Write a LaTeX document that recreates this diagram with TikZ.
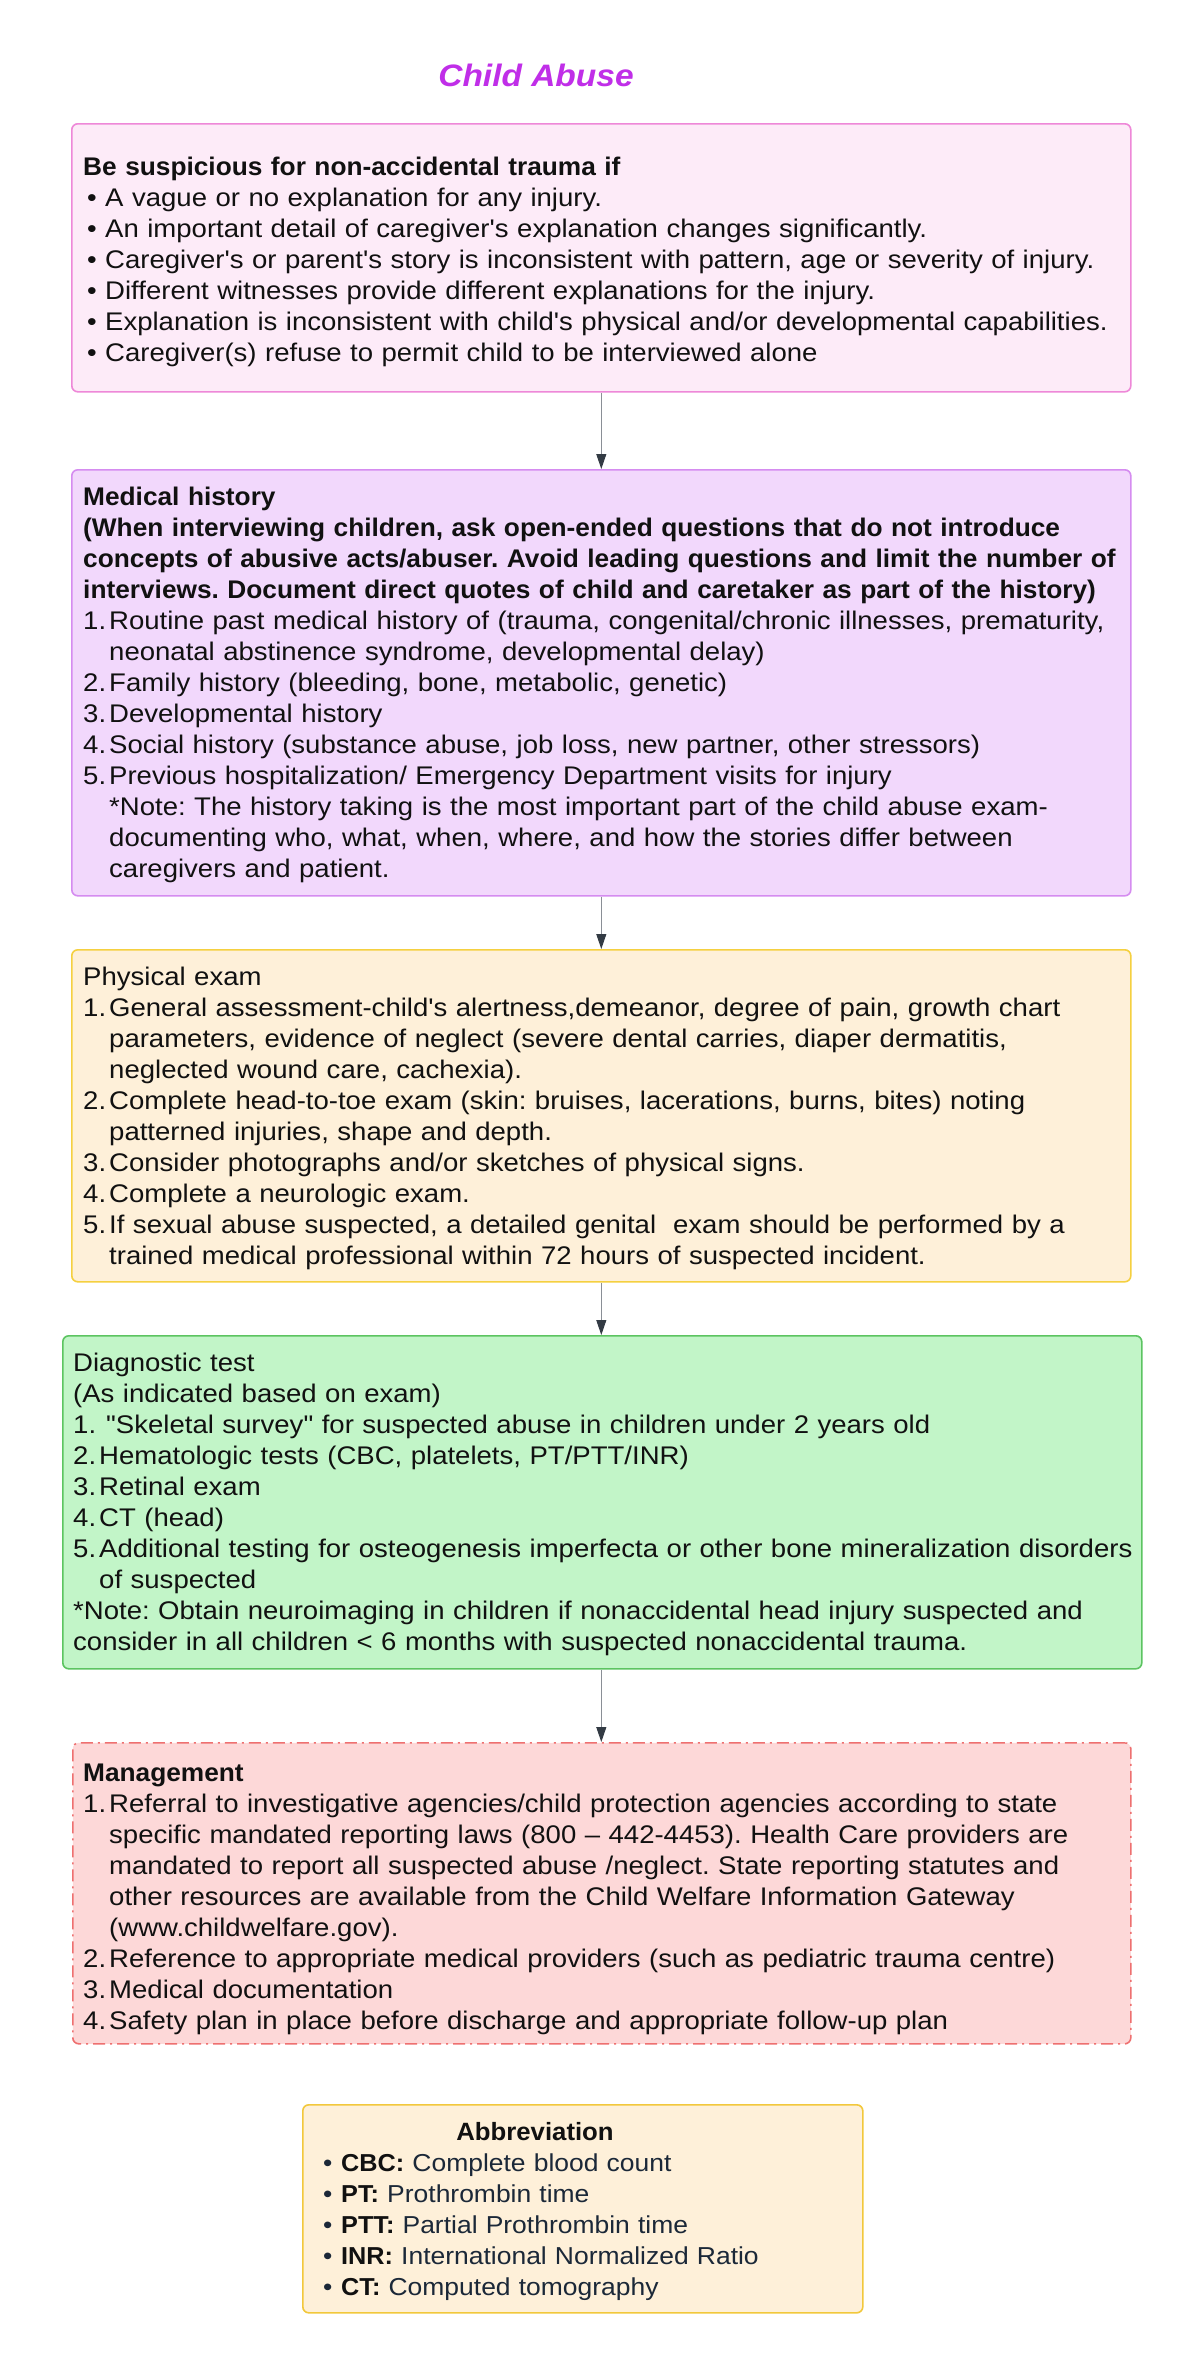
\documentclass[tikz,border=0pt]{standalone}
\usepackage{fontspec}
\setmainfont{Liberation Sans}[Ligatures=TeXOff,
  UprightFeatures={FakeStretch=1.08},
  BoldFeatures={FakeStretch=1.03},
  ItalicFeatures={FakeStretch=1.08},
  BoldItalicFeatures={FakeStretch=1.08}]
\usetikzlibrary{arrows.meta}
\frenchspacing
\definecolor{titlec}{HTML}{C02EE8}
\definecolor{pinkfill}{HTML}{FDEBF8}
\definecolor{pinkdraw}{HTML}{EE88D8}
\definecolor{purfill}{HTML}{F2D8FC}
\definecolor{purdraw}{HTML}{D58CF0}
\definecolor{yelfill}{HTML}{FEF0D9}
\definecolor{yeldraw}{HTML}{F5D040}
\definecolor{grnfill}{HTML}{C2F5C8}
\definecolor{grndraw}{HTML}{5CC461}
\definecolor{redfill}{HTML}{FDD8D8}
\definecolor{reddraw}{HTML}{EE7070}
\definecolor{abbdraw}{HTML}{F2C83C}
\definecolor{linec}{HTML}{8A8F96}
\definecolor{tipc}{HTML}{333B44}
\definecolor{txtc}{HTML}{111111}
\definecolor{navyc}{HTML}{1B2838}
\newcommand\bul{\hspace*{4pt}\makebox[18pt][l]{•}}
\newcommand\itm[1]{\makebox[26pt][l]{#1}}
\newcommand\ind{\hspace*{26pt}}
\tikzset{
  box/.style={rounded corners=6pt, line width=1.6pt, anchor=north west, inner sep=0pt},
  txt/.style={anchor=base west, inner sep=0pt, text width=1100pt, align=left,
              font=\fontsize{25.5}{31}\selectfont\frenchspacing, text=txtc},
  conn/.style={draw=linec, line width=1pt, -{Triangle[length=15pt,width=10pt,color=tipc]}}
}
\begin{document}
\begin{tikzpicture}[x=1pt,y=-1pt]
\useasboundingbox (0,0) rectangle (1200,2374);
\fill[white] (0,0) rectangle (1200,2374);

\node[font=\fontsize{31}{36}\selectfont\bfseries\itshape, text=titlec] (title) at (536,75) {Child Abuse};

% boxes
\node[box, fill=pinkfill, draw=pinkdraw, minimum width=1059pt, minimum height=268pt] (b1) at (71,123) {};
\node[box, fill=purfill, draw=purdraw, minimum width=1059pt, minimum height=426pt] (b2) at (71,469) {};
\node[box, fill=yelfill, draw=yeldraw, minimum width=1059pt, minimum height=332pt] (b3) at (71,949) {};
\node[box, fill=grnfill, draw=grndraw, minimum width=1079pt, minimum height=333pt] (b4) at (62,1335) {};
\node[box, fill=redfill, draw=reddraw, dash pattern=on 12pt off 5pt on 2pt off 5pt, minimum width=1058pt, minimum height=301pt] (b5) at (72,1742) {};
\node[box, fill=yelfill, draw=abbdraw, minimum width=560pt, minimum height=208pt] (b6) at (302,2104) {};

% texts
\node[txt] (t1) at (83,175) {\textbf{Be suspicious for non-accidental trauma if}\\
\bul A vague or no explanation for any injury.\\
\bul An important detail of caregiver's explanation changes significantly.\\
\bul Caregiver's or parent's story is inconsistent with pattern, age or severity of injury.\\
\bul Different witnesses provide different explanations for the injury.\\
\bul Explanation is inconsistent with child's physical and/or developmental capabilities.\\
\bul Caregiver(s) refuse to permit child to be interviewed alone};

\node[txt] (t2) at (83,505) {\textbf{Medical history}\\
\textbf{(When interviewing children, ask open-ended questions that do not introduce}\\
\textbf{concepts of abusive acts/abuser. Avoid leading questions and limit the number of}\\
\textbf{interviews. Document direct quotes of child and caretaker as part of the history)}\\
\itm{1.}Routine past medical history of (trauma, congenital/chronic illnesses, prematurity,\\
\ind neonatal abstinence syndrome, developmental delay)\\
\itm{2.}Family history (bleeding, bone, metabolic, genetic)\\
\itm{3.}Developmental history\\
\itm{4.}Social history (substance abuse, job loss, new partner, other stressors)\\
\itm{5.}Previous hospitalization/ Emergency Department visits for injury\\
\ind *Note: The history taking is the most important part of the child abuse exam-\\
\ind documenting who, what, when, where, and how the stories differ between\\
\ind caregivers and patient.};

\node[txt] (t3) at (83,985) {Physical exam\\
\itm{1.}General assessment-child's alertness,demeanor, degree of pain, growth chart\\
\ind parameters, evidence of neglect (severe dental carries, diaper dermatitis,\\
\ind neglected wound care, cachexia).\\
\itm{2.}Complete head-to-toe exam (skin: bruises, lacerations, burns, bites) noting\\
\ind patterned injuries, shape and depth.\\
\itm{3.}Consider photographs and/or sketches of physical signs.\\
\itm{4.}Complete a neurologic exam.\\
\itm{5.}If sexual abuse suspected, a detailed genital\ \ exam should be performed by a\\
\ind trained medical professional within 72 hours of suspected incident.};

\node[txt] (t4) at (73,1371) {Diagnostic test\\
(As indicated based on exam)\\
\itm{1.}\hspace*{7pt}"Skeletal survey" for suspected abuse in children under 2 years old\\
\itm{2.}Hematologic tests (CBC, platelets, PT/PTT/INR)\\
\itm{3.}Retinal exam\\
\itm{4.}CT (head)\\
\itm{5.}Additional testing for osteogenesis imperfecta or other bone mineralization disorders\\
\ind of suspected\\
\relax *Note: Obtain neuroimaging in children if nonaccidental head injury suspected and\\
consider in all children < 6 months with suspected nonaccidental trauma.};

\node[txt] (t5) at (83,1781) {\textbf{Management}\\
\itm{1.}Referral to investigative agencies/child protection agencies according to state\\
\ind specific mandated reporting laws (800 – 442-4453). Health Care providers are\\
\ind mandated to report all suspected abuse /neglect. State reporting statutes and\\
\ind other resources are available from the Child Welfare Information Gateway\\
\ind (www.childwelfare.gov).\\
\itm{2.}Reference to appropriate medical providers (such as pediatric trauma centre)\\
\itm{3.}Medical documentation\\
\itm{4.}Safety plan in place before discharge and appropriate follow-up plan};

\node[anchor=base, inner sep=0pt, font=\fontsize{25}{31}\selectfont\bfseries, text=txtc] (t6h) at (535,2140) {Abbreviation};
\node[txt, text width=520pt, text=navyc, font=\fontsize{24.5}{31}\selectfont] (t6) at (319,2171) {\bul\textcolor{txtc}{\textbf{CBC:}} Complete blood count\\
\bul\textcolor{txtc}{\textbf{PT:}} Prothrombin time\\
\bul\textcolor{txtc}{\textbf{PTT:}} Partial Prothrombin time\\
\bul\textcolor{txtc}{\textbf{INR:}} International Normalized Ratio\\
\bul\textcolor{txtc}{\textbf{CT:}} Computed tomography};

% connectors
\draw[conn] (b1.south) -- (b1.south |- b2.north);
\draw[conn] (b2.south) -- (b2.south |- b3.north);
\draw[conn] (b3.south) -- (b3.south |- b4.north);
\draw[conn] (b4.south -| b3.south) -- (b3.south |- b5.north);
\end{tikzpicture}
\end{document}
